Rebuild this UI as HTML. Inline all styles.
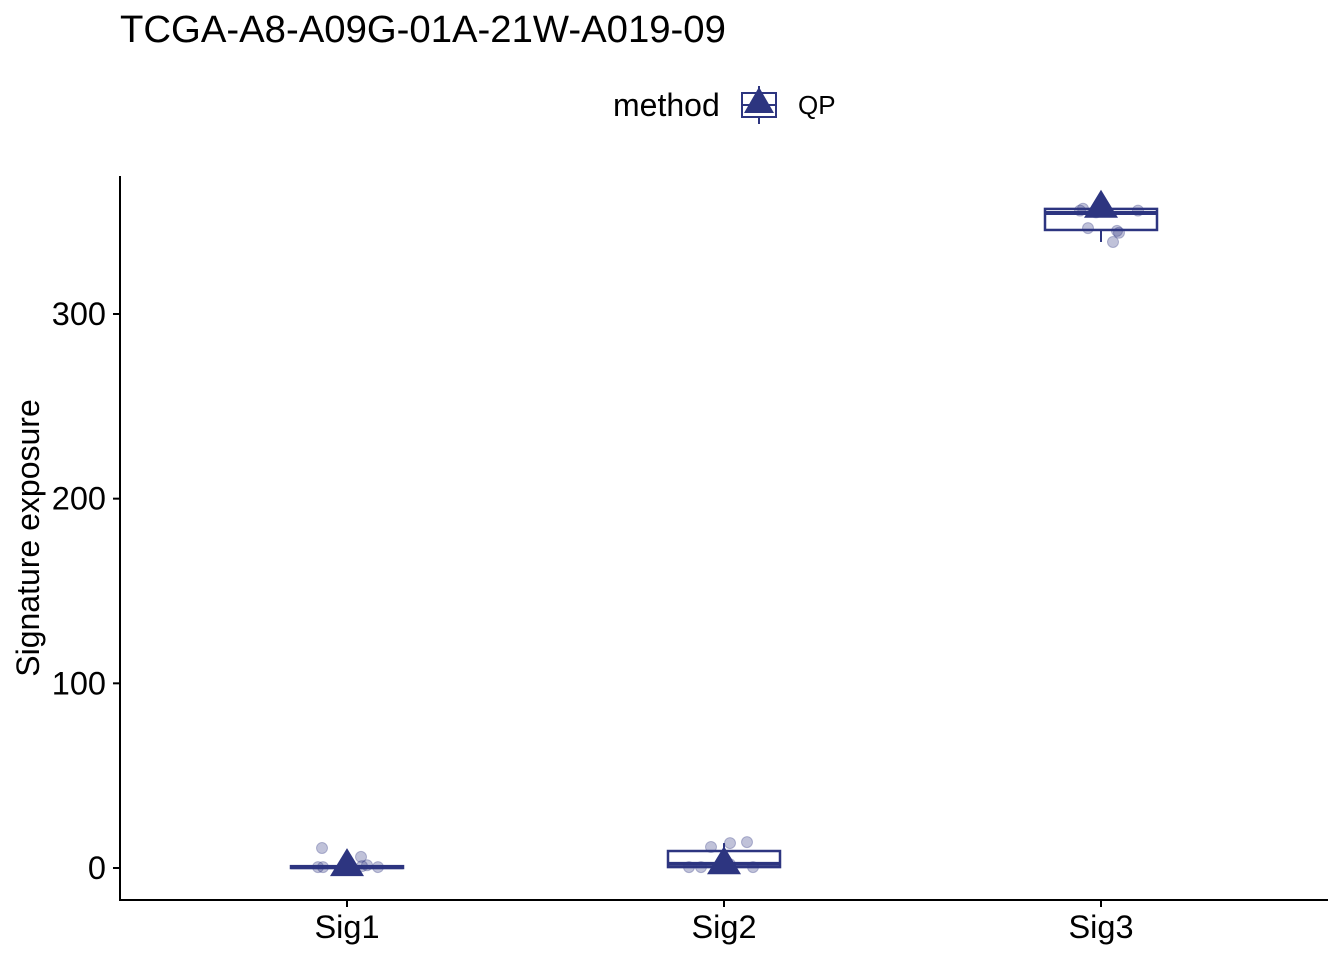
<!DOCTYPE html>
<html><head><meta charset="utf-8"><style>
body{margin:0;background:#fff;font-family:"Liberation Sans",sans-serif}
</style></head><body>
<svg id="chart" width="1344" height="960" xmlns="http://www.w3.org/2000/svg" font-family="Liberation Sans, sans-serif">
<text x="120" y="42" font-size="38.3" fill="#000">TCGA-A8-A09G-01A-21W-A019-09</text>
<g>
<text x="613" y="116" font-size="32">method</text>
<g>
<line x1="759" y1="86" x2="759" y2="124" stroke="#2d3580" stroke-width="2"/>
<rect x="742" y="93" width="34" height="24" fill="#fff" stroke="#2d3580" stroke-width="2"/>
<line x1="742" y1="105" x2="776" y2="105" stroke="#2d3580" stroke-width="2"/>
<polygon points="759,87 774,113 744,113" fill="#2d3580"/>
<text x="798" y="114" font-size="26">QP</text>
</g>
</g>
<g id="plot"></g>
<text transform="translate(39,538) rotate(-90)" text-anchor="middle" font-size="32">Signature exposure</text>
</svg>
<script>
const categories=["Sig1","Sig2","Sig3"];
const q1=[0,0.5,345.5];
const medians=[0.5,2.2,354.7];
const q3=[1,9.2,356.9];
const whiskLo=[0,0,339];
const whiskHi=[1,13.5,357];
const means=[1,2,357.5];
const pointsCat=[0,0,0,0,0,0,0,1,1,1,1,1,1,1,2,2,2,2,2,2,2,2];
const pointsVal=[10.8,6,0.5,0.5,1.5,0.5,1,11.4,13.5,14,0.5,0.5,0.5,2,357,356,346.5,339,344,345,356,355];
const pointsJit=[-25,14,-29,-24,20,31,15,-13,6,23,-35,-23,29,6,-18,-21,-13,12,18,16,37,-5];
const yTicks=[0,100,200,300];
const NS="http://www.w3.org/2000/svg";
const g=document.getElementById('plot');
const x=i=>347+377*i;
const y=v=>868-v*1.8467;
const C="#2d3580";
function mk(t,a){const e=document.createElementNS(NS,t);for(const k in a)e.setAttribute(k,a[k]);g.appendChild(e);return e;}
let e=mk('line',{x1:120,y1:176,x2:120,y2:901,stroke:'#000','stroke-width':2});

e=mk('line',{x1:119,y1:900,x2:1328,y2:900,stroke:'#000','stroke-width':2});

yTicks.forEach(t=>{
 e=mk('line',{x1:113,y1:y(t),x2:120,y2:y(t),stroke:'#000','stroke-width':2});
 
 e=mk('text',{x:106,y:y(t)+11,'text-anchor':'end','font-size':32.5,fill:'#000'});e.textContent=t;
 
});
categories.forEach((c,i)=>{
 e=mk('line',{x1:x(i),y1:900,x2:x(i),y2:907,stroke:'#000','stroke-width':2});
 
 e=mk('text',{x:x(i),y:938,'text-anchor':'middle','font-size':32.5,fill:'#000'});e.textContent=c;
 
 e=mk('line',{x1:x(i),y1:y(whiskLo[i]),x2:x(i),y2:y(whiskHi[i]),stroke:C,'stroke-width':2});
 
 const top=y(q3[i]),bot=y(q1[i]);
 e=mk('rect',{x:x(i)-56,y:top,width:112,height:Math.max(bot-top,0.5),fill:'#fff',stroke:C,'stroke-width':2.5});
 
 e=mk('line',{x1:x(i)-56,y1:y(medians[i]),x2:x(i)+56,y2:y(medians[i]),stroke:C,'stroke-width':4});
 
});
pointsVal.forEach((v,k)=>{
 e=mk('circle',{cx:x(pointsCat[k])+pointsJit[k],cy:y(v),r:5.5,fill:C,'fill-opacity':0.3,stroke:C,'stroke-opacity':0.3,'stroke-width':1});
 
});
categories.forEach((c,i)=>{
 const cx=x(i),cy=y(means[i]);
 e=mk('polygon',{points:`${cx},${cy-18} ${cx+17},${cy+10} ${cx-17},${cy+10}`,fill:C});
 
});
</script>
</body></html>
